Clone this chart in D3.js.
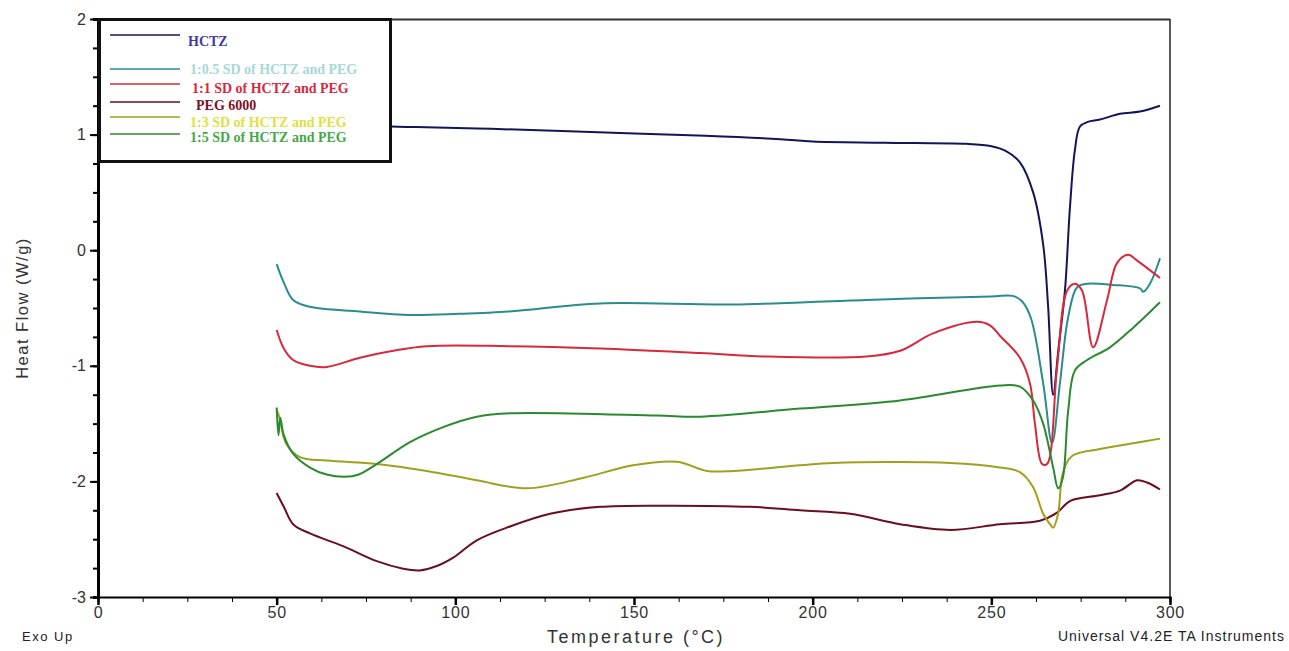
<head>
<script src="https://d3js.org/d3.v7.min.js"></script>
<style>
  body { margin: 0; background: #fff; }
  svg { display: block; }
</style>
</head>
<body>
<div id="chart"></div>
<script>
// DSC curves, [temperature °C, heat flow W/g]
const hctz = [[30,1.15],[60,1.10],[82,1.07],[89,1.065],[110,1.05],[140,1.02],[170,0.99],[191,0.96],[200,0.94],
  [220,0.93],[243,0.92],[250,0.90],[254,0.86],[258,0.76],[261.7,0.50],[264.5,0.05],[265.9,-0.49],[267.3,-1.25],
  [268.8,-0.85],[270.6,-0.35],[272,0.37],[273.4,0.87],[274.8,1.07],[277,1.11],[280.4,1.13],[286,1.18],[291.6,1.20],[297.2,1.25]];
const sd05 = [[50,-0.12],[52,-0.28],[54.6,-0.43],[59.3,-0.49],[73.3,-0.53],[87.3,-0.56],[101,-0.55],[115,-0.53],
  [140.5,-0.46],[177.7,-0.47],[215,-0.43],[250,-0.40],[256,-0.395],[258.5,-0.44],[261,-0.58],[264.5,-1.15],[267,-1.67],
  [269.2,-1.15],[271.5,-0.58],[274,-0.32],[276.8,-0.29],[284,-0.30],[291.6,-0.33],[292.5,-0.36],[294.4,-0.29],[297.2,-0.07]];
const sd1 = [[50,-0.69],[52,-0.85],[54.6,-0.95],[59.3,-1.00],[64,-1.01],[73.3,-0.93],[82.6,-0.87],[92,-0.83],
  [115,-0.83],[140.5,-0.85],[168.5,-0.89],[187,-0.92],[215,-0.92],[224.5,-0.87],[233.7,-0.72],[246,-0.62],
  [249.6,-0.65],[252.4,-0.74],[258,-0.93],[260.8,-1.15],[262.2,-1.50],[264.2,-1.85],[265.6,-1.85],[268.4,-1.01],
  [271.2,-0.35],[273.4,-0.29],[275.4,-0.35],[278.5,-0.84],[282.4,-0.43],[285.2,-0.11],[288.3,-0.04],[290.8,-0.09],[297.2,-0.24]];
const peg = [[50,-2.10],[52,-2.22],[54.6,-2.37],[59.3,-2.45],[68.6,-2.56],[78,-2.69],[85.4,-2.755],[90,-2.77],
  [95,-2.73],[99.4,-2.66],[106,-2.51],[115.3,-2.39],[126.5,-2.28],[140.5,-2.22],[159,-2.21],[182.5,-2.22],[196.5,-2.25],
  [210.5,-2.28],[224.5,-2.37],[238.5,-2.42],[252.4,-2.37],[263.6,-2.34],[268.4,-2.27],[272,-2.17],[280.4,-2.12],
  [286,-2.08],[290.8,-1.99],[293.6,-2.01],[297.2,-2.07]];
const sd3 = [[50,-1.38],[50.8,-1.45],[52.6,-1.67],[56.5,-1.79],[64,-1.82],[78,-1.85],[92,-1.91],[106,-1.99],
  [120,-2.06],[135.7,-1.97],[149.7,-1.86],[162,-1.83],[170.4,-1.91],[177.7,-1.91],[196.5,-1.86],[205.7,-1.84],
  [238.5,-1.84],[252.4,-1.88],[258,-1.92],[261.7,-2.05],[264.5,-2.28],[266.4,-2.37],[267.3,-2.40],[268.7,-2.28],
  [270,-1.93],[272.6,-1.78],[280.4,-1.72],[289.7,-1.67],[297.2,-1.63]];
const sd5 = [[50,-1.36],[50.5,-1.60],[51,-1.45],[52,-1.60],[54.6,-1.76],[59.3,-1.88],[64,-1.94],[69,-1.96],
  [73,-1.94],[78,-1.85],[87.3,-1.66],[96.6,-1.53],[106,-1.44],[115.3,-1.41],[156.4,-1.43],[168.5,-1.44],[196.5,-1.37],
  [224.5,-1.30],[252.4,-1.17],[258,-1.18],[261.7,-1.30],[264.5,-1.50],[267.3,-1.88],[268.7,-2.06],[270,-1.97],
  [271.5,-1.39],[273.4,-1.04],[276.8,-0.95],[283.2,-0.84],[289.7,-0.67],[297.2,-0.45]];

const seriesNames = ["HCTZ", "1:0.5 SD of HCTZ and PEG", "1:1 SD of HCTZ and PEG", "PEG 6000",
  "1:3 SD of HCTZ and PEG", "1:5 SD of HCTZ and PEG"];
const seriesData = [hctz, sd05, sd1, peg, sd3, sd5];
const lineColors = ["#14145a", "#2a8c8c", "#d8283c", "#6a0e22", "#a0a01e", "#2a8a30"];
const textColors = ["#3c3ca0", "#a6d8d8", "#d8283c", "#7a1024", "#e0e040", "#44a848"];

const xTicks = [0, 50, 100, 150, 200, 250, 300];
const yTicks = [-3, -2, -1, 0, 1, 2];

const W = 1289, H = 651;
const svg = d3.select("#chart").append("svg").attr("width", W).attr("height", H);

const x = d3.scaleLinear().domain([0, 300]).range([98, 1170]);
const y = d3.scaleLinear().domain([-3, 2]).range([597, 19]);
const sans = "Liberation Sans, Arial, sans-serif";

// frame top + right
svg.append("line").attr("x1", 98).attr("x2", 1170).attr("y1", 19.5).attr("y2", 19.5)
  .attr("stroke", "#333").attr("stroke-width", 2);
svg.append("line").attr("x1", 1170).attr("x2", 1170).attr("y1", 19).attr("y2", 597)
  .attr("stroke", "#222").attr("stroke-width", 1.5);

// curves
const line = d3.line().x(d => x(d[0])).y(d => y(d[1])).curve(d3.curveCatmullRom.alpha(0.5));
svg.selectAll("path.curve").data(seriesData).enter().append("path")
  .attr("class", "curve")
  .attr("d", line)
  .attr("fill", "none")
  .attr("stroke", (d, i) => lineColors[i])
  .attr("stroke-width", 2);

// axes
const xAxis = svg.append("g").attr("transform", "translate(0,597)")
  .call(d3.axisBottom(x).tickValues(d3.range(0, 301, 12.5)).tickSize(5).tickFormat(""));
xAxis.select(".domain").attr("stroke-width", 2);
svg.append("g").attr("transform", "translate(0,597)")
  .call(d3.axisBottom(x).tickValues(xTicks).tickSize(8).tickPadding(2))
  .call(g => g.select(".domain").remove())
  .call(g => g.selectAll("line").attr("stroke-width", 2.5))
  .call(g => g.selectAll("text").attr("font-family", sans)
    .attr("font-size", 16).attr("letter-spacing", 0.8).attr("fill", "#333"));

const yAxis = svg.append("g").attr("transform", "translate(98,0)")
  .call(d3.axisLeft(y).tickValues(d3.range(-3, 2.01, 0.25)).tickSize(5).tickFormat(""));
yAxis.select(".domain").attr("stroke-width", 3);
yAxis.selectAll("line").attr("stroke-width", 2);
svg.append("g").attr("transform", "translate(98,0)")
  .call(d3.axisLeft(y).tickValues(yTicks).tickSize(8).tickPadding(4).tickFormat(d => String(d)))
  .call(g => g.select(".domain").remove())
  .call(g => g.selectAll("line").attr("stroke-width", 2))
  .call(g => g.selectAll("text").attr("font-family", sans)
    .attr("font-size", 16).attr("fill", "#333"));

// legend
const lg = svg.append("g");
lg.append("rect").attr("x", 99.5).attr("y", 19.5).attr("width", 291).attr("height", 142)
  .attr("fill", "#fff").attr("stroke", "#111").attr("stroke-width", 3);
const legY = [35, 69, 84, 102, 117, 134];
const txtY = [46, 74, 93, 110, 127, 142];
const txtX = [188, 190, 192, 196, 190, 190];
seriesNames.forEach((name, i) => {
  lg.append("line").attr("x1", 110).attr("x2", 180).attr("y1", legY[i]).attr("y2", legY[i])
    .attr("stroke", lineColors[i]).attr("stroke-width", 1.5);
  lg.append("text").attr("x", txtX[i]).attr("y", txtY[i]).text(name)
    .attr("font-family", "Liberation Serif, Times New Roman, serif")
    .attr("font-size", 14)
    .attr("font-weight", "bold")
    .attr("fill", textColors[i]);
});

// titles
svg.append("text").attr("transform", "translate(28,308) rotate(-90)").attr("text-anchor", "middle")
  .attr("font-family", sans).attr("font-size", 16.5).attr("letter-spacing", 1.5)
  .attr("fill", "#333").text("Heat Flow (W/g)");
svg.append("text").attr("x", 636).attr("y", 643).attr("text-anchor", "middle")
  .attr("font-family", sans).attr("font-size", 18).attr("letter-spacing", 2.5)
  .attr("fill", "#333").text("Temperature (°C)");
svg.append("text").attr("x", 22).attr("y", 641)
  .attr("font-family", sans).attr("font-size", 13).attr("letter-spacing", 1.5)
  .attr("fill", "#222").text("Exo Up");
svg.append("text").attr("x", 1285).attr("y", 641).attr("text-anchor", "end")
  .attr("font-family", sans).attr("font-size", 14).attr("letter-spacing", 1)
  .attr("fill", "#222").text("Universal V4.2E TA Instruments");
</script>
</body>
